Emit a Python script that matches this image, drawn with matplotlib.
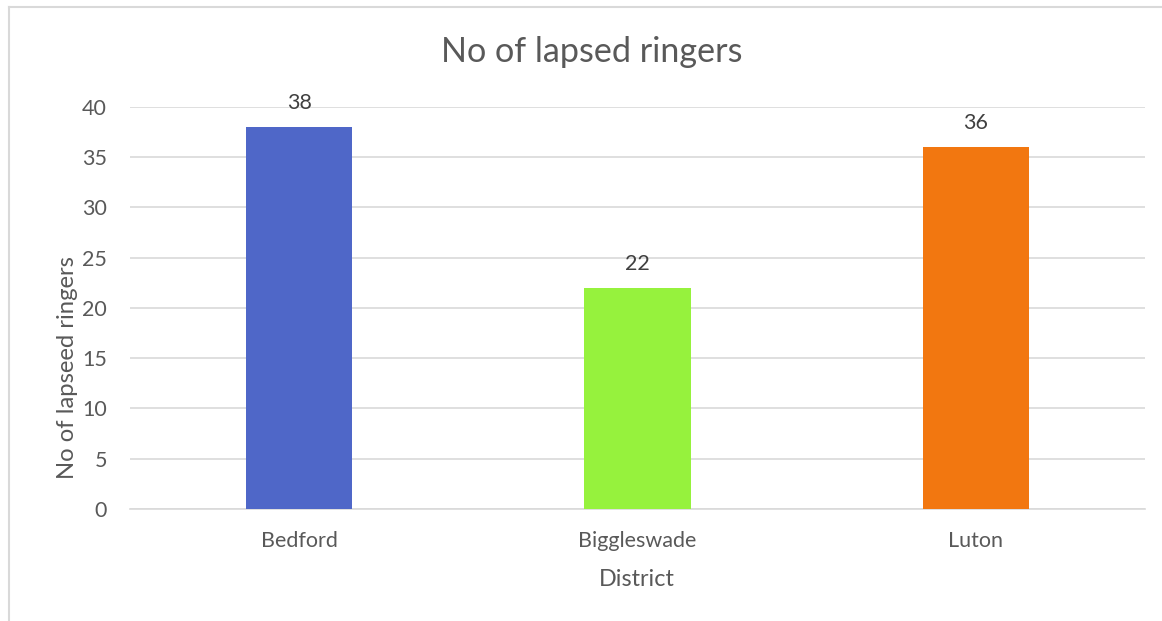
import matplotlib.pyplot as plt
from matplotlib.lines import Line2D

districts = ['Bedford', 'Biggleswade', 'Luton']
lapsed = [38, 22, 36]
bar_colors = ['#4F67C8', '#96F23D', '#F27710']

plt.rcParams['font.family'] = ['Lato', 'DejaVu Sans']
txt = '#595959'
grid = '#D9D9D9'

fig = plt.figure(figsize=(11.62, 6.21), dpi=100)
ax = fig.add_axes([0.1119, 0.1804, 0.8735, 0.6473])

x = range(len(districts))
bars = ax.bar(x, lapsed, width=0.315, color=bar_colors, zorder=3)

for xi, v in zip(x, lapsed):
    ax.annotate(str(v), (xi, v), xytext=(0, 10), textcoords='offset points',
                ha='center', va='bottom', fontsize=15.5, color='#404040')

ax.set_xlim(-0.5, 2.5)
ax.set_ylim(0, 40)
ax.set_yticks(range(0, 41, 5))
ax.set_xticks(list(x))
ax.set_xticklabels(districts)
ax.tick_params(axis='both', length=0, labelsize=15.5, labelcolor=txt)
ax.tick_params(axis='y', pad=16.5)
ax.tick_params(axis='x', pad=16)
ax.yaxis.grid(True, color=grid, linewidth=1.2, zorder=0)
for s in ['top', 'right', 'left']:
    ax.spines[s].set_visible(False)
ax.spines['bottom'].set_color(grid)
ax.spines['bottom'].set_linewidth(1.2)

fig.text(592 / 1162, 1 - 52 / 621, 'No of lapsed ringers', ha='center', va='center',
         fontsize=24.6, color=txt)
fig.text(637 / 1162, 1 - 579 / 621, 'District', ha='center', va='center',
         fontsize=16.8, color=txt)
fig.text(68 / 1162, 1 - 368 / 621, 'No of lapseed ringers', ha='center', va='center',
         rotation=90, fontsize=17.2, color=txt)

# chart border (partly cut off in the original)
fig.add_artist(Line2D([9 / 1162, 1], [1 - 7 / 621, 1 - 7 / 621], color=grid, lw=1.5))
fig.add_artist(Line2D([9 / 1162, 9 / 1162], [0, 1 - 7 / 621], color=grid, lw=1.5))

fig.savefig('out.png', dpi=100)
